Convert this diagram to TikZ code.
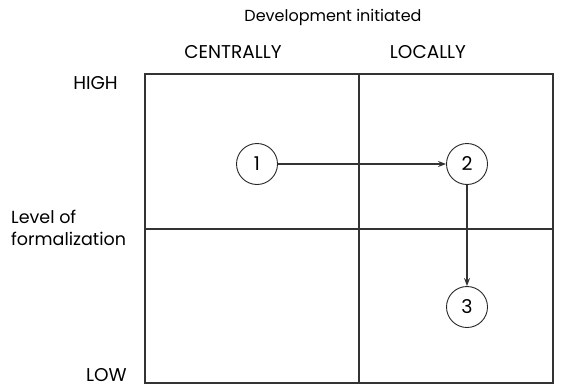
\documentclass[tikz,border=0pt]{standalone}
\usepackage{fontspec}
\setmainfont{Poppins}
\usetikzlibrary{arrows.meta}
\begin{document}
\begin{tikzpicture}[x=1pt,y=-1pt,
  grid/.style={line width=1.1pt,draw=black!80},
  stage/.style={circle,draw=black!85,line width=0.9pt,minimum size=41pt,inner sep=0pt,font=\fontsize{19}{19}\selectfont},
  flow/.style={line width=1.1pt,draw=black!80,-{Stealth[length=8pt,width=6pt]}},
  lbl/.style={inner sep=0pt},
  caps/.style={lbl,font=\fontsize{18.5}{20}\selectfont}]
\useasboundingbox (0,0) rectangle (564,388);
% quadrant frame
\draw[grid] (145,74) rectangle (553,383);
\draw[grid] (359,74) -- (359,383);
\draw[grid] (145,229) -- (553,229);
% axis labels
\node[lbl,font=\fontsize{16}{18}\selectfont] (dev) at (333,17) {Development initiated};
\node[caps] (cen) at (233,52) {CENTRALLY};
\node[caps] (loc) at (428,52) {LOCALLY};
\node[caps,anchor=east] (high) at (118,83) {HIGH};
\node[caps,anchor=east] (low) at (127,375) {LOW};
\node[lbl,anchor=west,align=left,font=\fontsize{17.5}{22}\selectfont] (lev) at (11,228) {Level of\\formalization};
% stages
\node[stage] (s1) at (257,164) {1};
\node[stage] (s2) at (467,164) {2};
\node[stage] (s3) at (467,307) {3};
\draw[flow] (s1) -- (s2);
\draw[flow] (s2) -- (s3);
\end{tikzpicture}
\end{document}
